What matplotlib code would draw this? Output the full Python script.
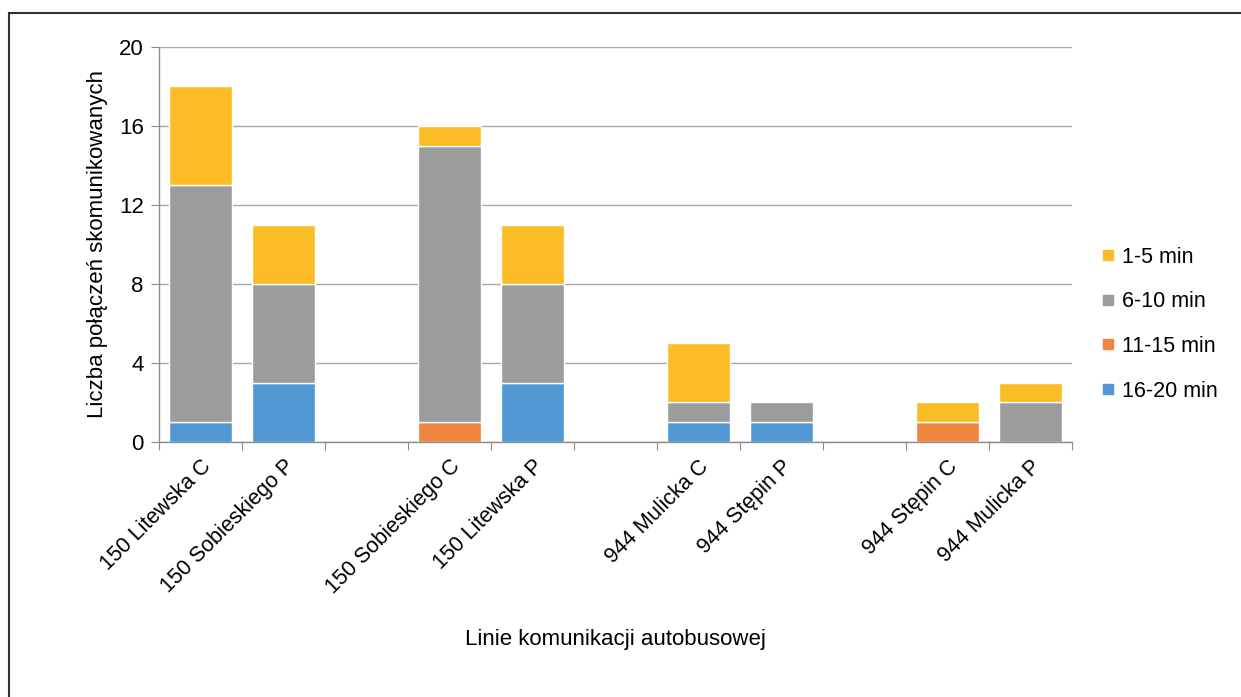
import matplotlib
matplotlib.use("Agg")
import matplotlib.pyplot as plt
from matplotlib.lines import Line2D
import numpy as np

plt.rcParams['font.family'] = ['Liberation Sans', 'DejaVu Sans']

# empty strings are the gaps between the groups
categories = ["150 Litewska C", "150 Sobieskiego P", "",
              "150 Sobieskiego C", "150 Litewska P", "",
              "944 Mulicka C", "944 Stępin P", "",
              "944 Stępin C", "944 Mulicka P"]
m16_20 = [1, 3, 0, 0, 3, 0, 1, 1, 0, 0, 0]
m11_15 = [0, 0, 0, 1, 0, 0, 0, 0, 0, 1, 0]
m6_10 = [12, 5, 0, 14, 5, 0, 1, 1, 0, 0, 2]
m1_5 = [5, 3, 0, 1, 3, 0, 3, 0, 0, 1, 1]

series = [("16-20 min", m16_20, "#5197D3"),
          ("11-15 min", m11_15, "#F08540"),
          ("6-10 min", m6_10, "#9A9C9D"),
          ("1-5 min", m1_5, "#FCBC26")]

fig = plt.figure(figsize=(12.41, 6.97), dpi=100)
ax = fig.add_axes([0.1281, 0.3659, 0.7357, 0.5667])

x = np.arange(len(categories))
bottom = np.zeros(len(categories))
for name, vals, col in series:
    vals = np.array(vals, dtype=float)
    vals[vals == 0] = np.nan  # don't draw empty segments
    ax.bar(x, vals, bottom=bottom, width=0.76, color=col,
           edgecolor="white", linewidth=1, zorder=3)
    bottom += np.nan_to_num(vals)

ax.set_xlim(-0.5, len(categories) - 0.5)
ax.set_ylim(0, 20)
ax.set_yticks([0, 4, 8, 12, 16, 20])
ax.yaxis.grid(True, color="#A8A8A8", linewidth=1, zorder=0)

# ticks at category boundaries, labels in the middle
ax.set_xticks(np.arange(-0.5, len(categories), 1))
ax.set_xticklabels([])
ax.set_xticks(x, minor=True)
ax.set_xticklabels(categories, minor=True, rotation=45, ha="right",
                   rotation_mode="anchor", fontsize=15.5)
ax.tick_params(axis="x", which="minor", length=0, pad=10)
ax.tick_params(axis="x", which="major", length=6, color="#8C8C8C",
               direction="out")
ax.tick_params(axis="y", length=6, color="#8C8C8C", labelsize=16, pad=5)

for s in ["top", "right"]:
    ax.spines[s].set_visible(False)
for s in ["left", "bottom"]:
    ax.spines[s].set_color("#8C8C8C")
    ax.spines[s].set_linewidth(1)
    ax.spines[s].set_zorder(5)

ax.set_ylabel("Liczba połączeń skomunikowanych", fontsize=16, labelpad=8)
ax.set_xlabel("Linie komunikacji autobusowej", fontsize=16, labelpad=22)

handles = [Line2D([], [], marker="s", linestyle="none", markersize=7.5,
                  color=col, label=name) for name, vals, col in series[::-1]]
fig.legend(handles=handles, loc="center left",
           bbox_to_anchor=(0.870, 0.535), frameon=False, fontsize=15.5,
           labelspacing=1.1, handletextpad=0.25, handlelength=0.8)

# frame around the figure (top and left edges visible)
fig.add_artist(Line2D([0.0075, 0.0075], [0, 0.9813], color="#303030",
                      linewidth=1.5, transform=fig.transFigure))
fig.add_artist(Line2D([0.0075, 1.0], [0.9813, 0.9813], color="#303030",
                      linewidth=1.5, transform=fig.transFigure))

fig.savefig("out.png", dpi=100)
